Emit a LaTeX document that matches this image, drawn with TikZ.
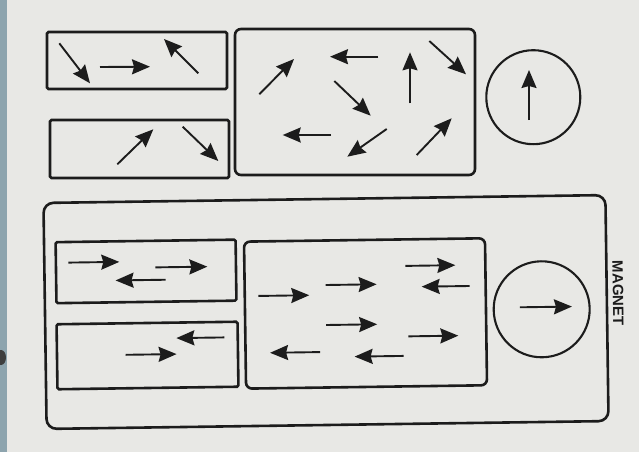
\documentclass[tikz,border=0pt]{standalone}
\usepackage{fontspec}
\setsansfont{Liberation Sans}
\usepackage{tikz}
\usetikzlibrary{arrows.meta,positioning}
\definecolor{paper}{HTML}{E8E8E5}
\definecolor{strip}{HTML}{8DA4AE}
\definecolor{ink}{HTML}{1C1C1C}

\begin{document}
\begin{tikzpicture}[
    x=1pt, y=-1pt,
    box/.style={rectangle, draw=ink, line width=2.6pt, rounded corners=1.5pt, inner sep=0pt},
    group/.style={box, rounded corners=6pt},
    grain/.style={circle, draw=ink, line width=2.1pt, inner sep=0pt},
    arr/.style={-{Stealth[length=18pt,width=15pt,inset=2pt]}, line width=1.9pt, draw=ink}
]
\fill[paper, use as bounding box] (0,0) rectangle (639,452);
\fill[strip] (0,0) rectangle (7,452);
\fill[ink!85] (1,357.5) ellipse (5 and 7.5);

% unmagnetised sample
\node[box, minimum width=180pt, minimum height=57pt] (strA) at (137,60.5) {};
\node[box, minimum width=179pt, minimum height=58pt] (strB) at (139.5,149) {};
\node[group, minimum width=240pt, minimum height=146pt] (blk) at (355,102) {};
\node[grain, minimum size=94pt] (dotU) at (533.3,97.2) {};

\foreach \xa/\ya/\xb/\yb in {59.3/43.3/90/83.3, 100/67/150/66.7, 198.3/73.3/164/39,
    117.3/164.3/153.3/129.3, 182.7/126.7/218.3/161,
    259.3/94.3/294/59, 378.3/56.7/330/56.7, 410/103.3/410/52.3, 429.3/41/466/74.3,
    334.3/81/370.7/115.7, 331/135/282.7/135, 386.7/129/347.3/156.7, 416.7/155/451.7/118.3,
    529/120/529/70}
  \draw[arr] (\xa,\ya) -- (\xb,\yb);

% magnetised sample
\begin{scope}[rotate around={0.8:(326,312)}, transform shape]
\node[group, rounded corners=10pt, minimum width=562pt, minimum height=226pt] (mag) at (326,312) {};
\node[box, minimum width=180pt, minimum height=61pt] (strE) at (146.6,268.9) {};
\node[box, minimum width=181pt, minimum height=65pt] (strF) at (146.9,353) {};
\node[group, minimum width=241pt, minimum height=147pt] (blkG) at (365.5,314) {};
\node[grain, minimum size=96pt] (dotM) at (541.7,312.3) {};
\node[rotate=-90, font=\sffamily\bfseries\fontsize{15}{15}\selectfont, text=ink] (lbl) at (618.3,297.2) {MAGNET};

\foreach \xa/\ya/\xb/\yb in {69/259/120/259, 156/265/208/265, 166/277.5/116/277.5,
    224/336/176/336, 125/352/176/352,
    258.5/295/309.5/295, 326/285/377/285, 406/267/456/267, 470/288/422/288,
    326/325/377/325, 408/337.5/458/337.5, 319.5/352/269.5/352, 403/357/354/357,
    520/310/572/310}
  \draw[arr] (\xa,\ya) -- (\xb,\yb);
\end{scope}
\end{tikzpicture}
\end{document}
